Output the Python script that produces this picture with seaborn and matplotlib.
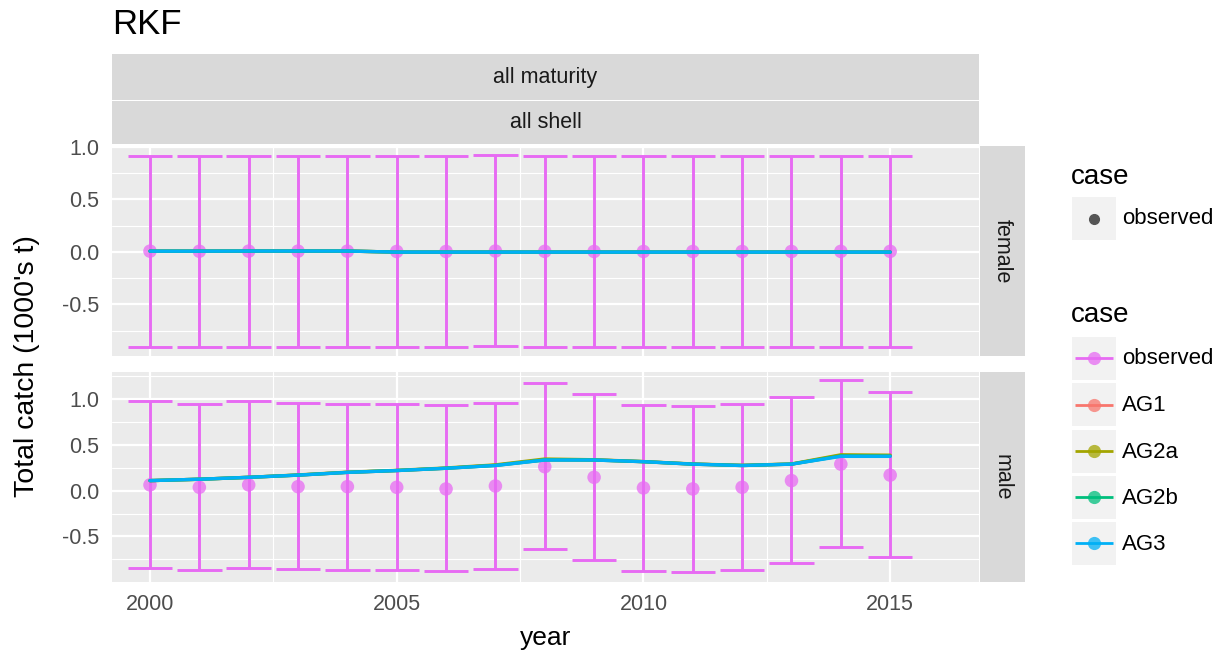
import matplotlib
matplotlib.use("Agg")
import matplotlib.pyplot as plt
import seaborn as sns
import pandas as pd
from matplotlib.patches import Rectangle
from matplotlib.ticker import FixedLocator, FuncFormatter

# ---------------- data ----------------
years = [2000, 2001, 2002, 2003, 2004, 2005, 2006, 2007,
         2008, 2009, 2010, 2011, 2012, 2013, 2014, 2015]
sexes = ["female", "male"]
cases = ["observed", "AG1", "AG2a", "AG2b", "AG3"]
case_colors = ["#E76BF3", "#F8766D", "#A3A500", "#00BF7D", "#00B0F6"]

female_obs = [0.007, 0.006, 0.007, 0.007, 0.007, 0.004, 0.004, 0.008,
              0.005, 0.004, 0.004, 0.004, 0.004, 0.004, 0.005, 0.005]
female_lower = [-0.905, -0.906, -0.905, -0.905, -0.905, -0.907, -0.907, -0.895,
                -0.905, -0.906, -0.906, -0.906, -0.906, -0.906, -0.905, -0.905]
female_upper = [0.911, 0.911, 0.911, 0.911, 0.911, 0.911, 0.911, 0.921,
                0.911, 0.911, 0.911, 0.911, 0.911, 0.911, 0.911, 0.911]

male_obs = [0.063, 0.037, 0.063, 0.044, 0.044, 0.037, 0.019, 0.051,
            0.262, 0.146, 0.030, 0.019, 0.037, 0.110, 0.290, 0.170]
male_lower = [-0.845, -0.870, -0.850, -0.857, -0.866, -0.870, -0.880, -0.860,
              -0.640, -0.760, -0.874, -0.888, -0.867, -0.790, -0.612, -0.730]
male_upper = [0.976, 0.948, 0.977, 0.958, 0.950, 0.950, 0.933, 0.958,
              1.176, 1.060, 0.940, 0.930, 0.950, 1.020, 1.205, 1.080]

female_AG1 = [0.007, 0.007, 0.008, 0.008, 0.008, -0.002, -0.002, -0.002,
              -0.002, -0.002, -0.002, -0.002, -0.002, -0.002, -0.002, -0.002]
female_AG2a = [0.007, 0.007, 0.008, 0.008, 0.008, -0.002, -0.002, -0.002,
               -0.002, -0.002, -0.002, -0.002, -0.002, -0.002, -0.002, -0.002]
female_AG2b = [0.007, 0.007, 0.008, 0.008, 0.008, -0.002, -0.002, -0.002,
               -0.002, -0.002, -0.002, -0.002, -0.002, -0.002, -0.002, -0.002]
female_AG3 = [0.007, 0.007, 0.008, 0.008, 0.008, -0.002, -0.002, -0.002,
              -0.002, -0.002, -0.002, -0.002, -0.002, -0.002, -0.002, -0.002]

male_AG1 = [0.110, 0.125, 0.146, 0.170, 0.200, 0.220, 0.245, 0.278,
            0.338, 0.336, 0.317, 0.290, 0.275, 0.290, 0.385, 0.380]
male_AG2a = [0.110, 0.125, 0.146, 0.172, 0.202, 0.222, 0.248, 0.282,
             0.346, 0.338, 0.318, 0.292, 0.277, 0.292, 0.392, 0.388]
male_AG2b = [0.110, 0.125, 0.146, 0.170, 0.200, 0.220, 0.245, 0.276,
             0.336, 0.335, 0.317, 0.290, 0.275, 0.290, 0.380, 0.378]
male_AG3 = [0.110, 0.125, 0.146, 0.170, 0.200, 0.220, 0.245, 0.275,
            0.335, 0.335, 0.317, 0.290, 0.275, 0.290, 0.375, 0.375]

title = "RKF"
col_strips = ["all maturity", "all shell"]
x_label = "year"
y_label = "Total catch (1000's t)"
x_ticks = [2000, 2005, 2010, 2015]

# ---------------- tidy tables ----------------
obs_rows = []
for sex, o, lo, hi in [("female", female_obs, female_lower, female_upper),
                       ("male", male_obs, male_lower, male_upper)]:
    for y, a, b, c in zip(years, o, lo, hi):
        obs_rows.append(dict(sex=sex, year=y, value=a, lower=b, upper=c))
obs_df = pd.DataFrame(obs_rows)

model_src = {
    ("female", "AG1"): female_AG1, ("female", "AG2a"): female_AG2a,
    ("female", "AG2b"): female_AG2b, ("female", "AG3"): female_AG3,
    ("male", "AG1"): male_AG1, ("male", "AG2a"): male_AG2a,
    ("male", "AG2b"): male_AG2b, ("male", "AG3"): male_AG3,
}
model_rows = []
for (sex, case), vals in model_src.items():
    for y, v in zip(years, vals):
        model_rows.append(dict(sex=sex, case=case, year=y, value=v))
model_df = pd.DataFrame(model_rows)

# ---------------- style ----------------
sns.set_style("white")
plt.rcParams["font.family"] = ["Liberation Sans", "DejaVu Sans"]
plt.rcParams["axes.unicode_minus"] = False

W, H = 1228, 658
fig = plt.figure(figsize=(W / 100, H / 100), dpi=100)
fig.patch.set_facecolor("white")

PL, PR = 112, 979
panels = {"female": (146, 356), "male": (372, 582)}
ylims = {"female": (-0.993, 1.010), "male": (-0.998, 1.297)}
yminor = {"female": [-0.75, -0.25, 0.25, 0.75],
          "male": [-0.75, -0.25, 0.25, 0.75, 1.25]}
pal = dict(zip(cases, case_colors))
pink = pal["observed"]

fmt = FuncFormatter(lambda v, p: ("%.1f" % v).replace("\u2212", "-"))

axes = {}
for sex in sexes:
    top, bot = panels[sex]
    ax = fig.add_axes([PL / W, 1 - bot / H, (PR - PL) / W, (bot - top) / H])
    axes[sex] = ax
    ax.set_facecolor("#EBEBEB")
    for s in ax.spines.values():
        s.set_visible(False)
    ax.set_xlim(1999.23, 2016.8)
    ax.set_ylim(*ylims[sex])
    ax.xaxis.set_major_locator(FixedLocator(x_ticks))
    ax.xaxis.set_minor_locator(FixedLocator([2002.5, 2007.5, 2012.5]))
    ax.yaxis.set_major_locator(FixedLocator([-0.5, 0.0, 0.5, 1.0]))
    ax.yaxis.set_minor_locator(FixedLocator(yminor[sex]))
    ax.yaxis.set_major_formatter(fmt)
    ax.grid(which="major", color="white", linewidth=1.6)
    ax.grid(which="minor", color="white", linewidth=0.8)
    ax.set_axisbelow(True)
    ax.tick_params(which="major", length=5.5, width=1.4, color="#333333",
                   labelsize=15.5, labelcolor="#4D4D4D", pad=3.5)
    ax.tick_params(which="minor", length=0)
    if sex == "female":
        ax.tick_params(axis="x", which="both", length=0, labelbottom=False)

    sub = obs_df[obs_df.sex == sex]
    ax.vlines(sub.year, sub.lower, sub.upper, color=pink, linewidth=2.1, zorder=2)
    ax.hlines(sub.lower, sub.year - 0.45, sub.year + 0.45, color=pink, linewidth=2.1, zorder=2)
    ax.hlines(sub.upper, sub.year - 0.45, sub.year + 0.45, color=pink, linewidth=2.1, zorder=2)
    sns.scatterplot(data=sub, x="year", y="value", color=pink, alpha=0.75, s=95,
                    edgecolor="none", ax=ax, zorder=3, legend=False)
    msub = model_df[model_df.sex == sex]
    sns.lineplot(data=msub, x="year", y="value", hue="case",
                 hue_order=cases[1:], palette=pal, linewidth=2.4,
                 ax=ax, legend=False, zorder=4)
    ax.set_xlabel("")
    ax.set_ylabel("")

# ---------------- overlay: strips, titles, legends ----------------
ov = fig.add_axes([0, 0, 1, 1], zorder=10)
ov.set_xlim(0, W)
ov.set_ylim(H, 0)
ov.axis("off")
ov.patch.set_alpha(0)

strip_col = "#D9D9D9"
# column strips
ov.add_patch(Rectangle((PL, 54), PR - PL, 45.5, facecolor=strip_col, edgecolor="none"))
ov.add_patch(Rectangle((PL, 100.5), PR - PL, 43.5, facecolor=strip_col, edgecolor="none"))
ov.text((PL + PR) / 2, 77, col_strips[0], ha="center", va="center",
        fontsize=15.5, color="#1A1A1A")
ov.text((PL + PR) / 2, 123, col_strips[1], ha="center", va="center",
        fontsize=15.5, color="#1A1A1A")
# row strips
for sex in sexes:
    top, bot = panels[sex]
    ov.add_patch(Rectangle((980, top), 45, bot - top, facecolor=strip_col, edgecolor="none"))
    ov.text(1002.5, (top + bot) / 2, sex, rotation=-90, ha="center", va="center",
            fontsize=15.5, color="#1A1A1A")

# titles
ov.text(PL, 25, title, ha="left", va="center", fontsize=25, color="black")
ov.text((PL + PR) / 2, 638, x_label, ha="center", va="center", fontsize=19, color="black")
ov.text(27, 366, y_label, ha="center", va="center", rotation=90, fontsize=20.5, color="black")

# legend 1
ov.text(1071, 177, "case", ha="left", va="center", fontsize=20, color="black")
ov.add_patch(Rectangle((1072, 197), 44, 43, facecolor="#F2F2F2", edgecolor="none"))
ov.plot([1094], [218.5], marker="o", markersize=7, color="#555555", linestyle="none")
ov.text(1122, 219, "observed", ha="left", va="center", fontsize=16, color="black")

# legend 2
ov.text(1071, 315, "case", ha="left", va="center", fontsize=20, color="black")
centers = [358, 404.5, 451, 497, 543]
for c, name, col in zip(centers, cases, case_colors):
    ov.add_patch(Rectangle((1072, c - 21.5), 44, 43, facecolor="#F2F2F2", edgecolor="none"))
    ov.plot([1075, 1113], [c, c], color=col, linewidth=2.0, solid_capstyle="butt")
    ov.plot([1094], [c], marker="o", markersize=9.5, color=col, alpha=0.75,
            markeredgewidth=0, linestyle="none")
    ov.text(1122, c + 1, name, ha="left", va="center", fontsize=16, color="black")

fig.savefig("out.png", dpi=100, facecolor="white")
